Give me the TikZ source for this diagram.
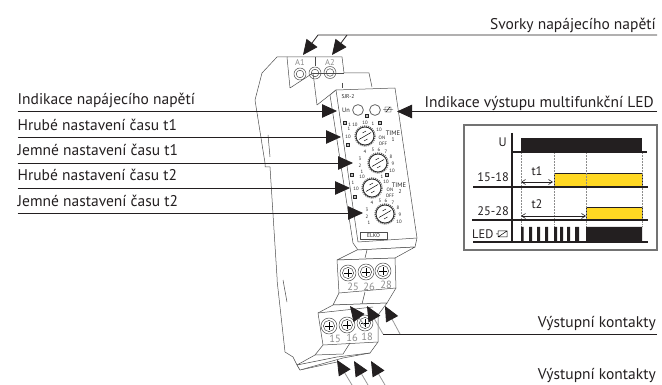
\documentclass[tikz,border=0pt]{standalone}
\usepackage{fontspec}
\setmainfont{PT Sans}
\usetikzlibrary{arrows.meta,calc}
\definecolor{termgray}{gray}{0.55}
\definecolor{sigyellow}{HTML}{FFD823}
\definecolor{sigblack}{HTML}{231F20}
\tikzset{
  label/.style={font=\fontsize{15.5}{17}\selectfont,inner sep=0pt,text=sigblack},
  pointer/.style={line width=0.8pt,draw=sigblack,-{Triangle[length=15pt,width=13.5pt,color=sigblack]}},
  graytail/.style={line width=0.8pt,draw=black!40,-{Triangle[length=15pt,width=13.5pt,color=sigblack]}},
  outline/.style={line width=0.5pt,draw=black!70,line join=round},
  tiny/.style={font=\fontsize{4.8}{5}\selectfont,inner sep=0pt,text=black!85},
  chart/.style={font=\fontsize{12.4}{14}\selectfont,inner sep=0pt,text=sigblack},
  termnum/.style={font=\fontsize{10.5}{11}\selectfont,inner sep=0pt,text=termgray},
  sigline/.style={line width=1.4pt,draw=sigblack},
  dotv/.style={line width=0.5pt,draw=black!45,densely dotted},
  dimarrow/.style={line width=0.6pt,draw=sigblack,{Straight Barb[length=4pt,width=5pt]}-{Straight Barb[length=4pt,width=5pt]}},
  icon/.style={line width=0.7pt,draw=black!85,fill=black!25},
}
\newcommand{\screwmark}[1]{%
  \draw[outline,fill=white] (#1) circle (8);
  \draw[outline] (#1) circle (5.6);
  \draw[line width=0.5pt] ($(#1)+(-4,0)$) -- ($(#1)+(4,0)$) ($(#1)+(0,-4)$) -- ($(#1)+(0,4)$);
}
\newcommand{\dialmark}[1]{%
  \draw[line width=1.4pt,draw=black!60,dash pattern=on 1pt off 1pt] (#1) circle (10);
  \draw[line width=0.8pt,draw=black!85,fill=white] (#1) circle (9);
  \draw[line width=0.5pt] ($(#1)+(-6,3.5)$) -- ($(#1)+(6,-3.5)$);
  \draw[line width=0.4pt] ($(#1)+(-2.5,-3)$) -- ($(#1)+(1,-5)$) ($(#1)+(-1,5)$) -- ($(#1)+(2.5,3)$);
}
\newcommand{\iconmark}[1]{\draw[icon] ($(#1)+(-1.8,-1.6)$) rectangle ($(#1)+(1.8,1.6)$);}
\begin{document}
\begin{tikzpicture}[x=1pt,y=-1pt]
\useasboundingbox (0,0) rectangle (662,385);
% rear body
\draw[outline] (287,57) -- (277,57) -- (262,73) -- (255,100) -- (265,163) -- (265,167) -- (270,167) -- (277,277) -- (277,280) -- (285,352) -- (293,357) -- (297,365) -- (300,370) -- (337,362);
\draw[outline] (268,135) -- (270,157);
\draw[outline] (283,280) -- (287,302);
% top terminal
\draw[outline] (287,57) -- (342,57) -- (344,73) -- (369,73) -- (372,87);
\draw[outline] (287,57) -- (290,88) -- (313,73) -- (317,105) -- (336,90);
\draw[outline] (313,73) -- (344,73);
\draw[outline] (315,57) -- (315,66);
\draw[outline] (342,83) -- (342,88);
\foreach \p in {(300,74),(315,73),(330,72.5)}{\draw[outline] \p circle (6); \draw[outline] \p circle (3.8);}
\node[font=\fontsize{8.5}{9}\selectfont,text=termgray,inner sep=0pt] (ta1) at (300,62) {A1};
\node[font=\fontsize{8.5}{9}\selectfont,text=termgray,inner sep=0pt] (ta2) at (330,62) {A2};
% front panel
\draw[outline,fill=white] (336,90) -- (395,88) -- (417,238) -- (415,247) -- (358,250) -- (353,243) -- (330,95) -- cycle;
\draw[outline] (336,90) -- (358,242) -- (417,238);
% status
\node[tiny,font=\fontsize{5.6}{6}\selectfont] (sjr) at (348,97) {SJR-2};
\node[tiny,font=\fontsize{6.4}{7}\selectfont] (un) at (346,110) {Un};
\draw[outline,line width=0.7pt] (358,110) circle (5.4);
\draw[outline,line width=0.7pt] (375,110) circle (5.4);
\draw[line width=0.4pt] (385,107) rectangle (391,112) (383,109.5) -- (393,109.5) (386,112) -- (390,107);
% dials
\dialmark{365,136}
\dialmark{378,163}
\dialmark{372,188}
\dialmark{385,214}
\iconmark{367,116}
\iconmark{345,123}
\iconmark{380,123}
\iconmark{348,145}
\iconmark{352,175}
\iconmark{387,175}
\iconmark{355,197}
\node[tiny] (d1a) at (353,125) {1 10};
\node[tiny] (d1b) at (365,123) {10};
\node[tiny] (d1f) at (373,124) {1};
\node[tiny] (d1c) at (379,130) {10};
\node[tiny] (d1d) at (349,129) {1};
\node[tiny] (d1e) at (348,137) {10};
\node[tiny] (ton1) at (382,138) {ON};
\node[tiny] (tof1) at (383,144) {OFF};
\node[tiny,font=\fontsize{6.6}{7}\selectfont] (tim1) at (393,133) {TIME};
\node[tiny,font=\fontsize{5.4}{6}\selectfont] (tnu1) at (393,140) {1};
\node[tiny] (d3a) at (362,177) {10};
\node[tiny] (d3b) at (382,177) {1};
\node[tiny] (d3c) at (386,182) {10};
\node[tiny] (d3e) at (353,183) {1};
\node[tiny] (d3d) at (356,189) {10};
\node[tiny] (ton2) at (390,190) {ON};
\node[tiny] (tof2) at (390,196) {OFF};
\node[tiny,font=\fontsize{6.6}{7}\selectfont] (tim2) at (399,185) {TIME};
\node[tiny,font=\fontsize{5.4}{6}\selectfont] (tnu2) at (400,192) {2};
\foreach \dx/\dy/\t in {-16/9/1,-18/3/2,-18/-4/3,-13/-11/4,-5/-13/5,1/-13/6,8/-11/7,13/-6/8,15/1/9,14/8/10}{
  \node[tiny] at ($(378,163)+(\dx,\dy)$) {\t};
  \node[tiny] at ($(385,214)+(\dx,\dy)$) {\t};
}
\draw[outline] (360,232) rectangle (387,239);
\node[tiny,font=\fontsize{5.6}{6}\selectfont] (elko) at (373.5,235.5) {ELKO};
% upper terminal block 25-28
\draw[outline,fill=white] (337,260) -- (357,250) -- (415,247) -- (395,258) -- cycle;
\draw[outline] (365,258) -- (367,250);
\draw[outline,fill=white] (337,260) -- (395,258) -- (396,288) -- (387,303) -- (333,305) -- (339,293) -- cycle;
\draw[outline] (339,293) -- (396,288);
\draw[outline] (365,292) -- (362,304);
\screwmark{348,273}
\screwmark{366,272}
\screwmark{383,271}
\node[termnum] (t25) at (353,287) {25};
\node[termnum] (t26) at (369,287) {26};
\node[termnum] (t28) at (386,285) {28};
% lower terminal block 15-18
\draw[outline,fill=white] (318,313) -- (333,305) -- (387,303) -- (378,315) -- (378,342) -- (370,353) -- (343,358) -- (300,370) -- (297,365) -- (315,355) -- (323,345) -- cycle;
\draw[outline] (323,345) -- (378,342);
\draw[outline] (318,313) -- (373,307);
\draw[outline] (350,343) -- (343,354);
\draw[outline] (297,365) -- (337,357) -- (370,353);
\draw[outline] (315,355) -- (343,354);
\screwmark{329,326}
\screwmark{347,325}
\screwmark{365,323}
\node[termnum] (t15) at (335,339) {15};
\node[termnum] (t16) at (352,338) {16};
\node[termnum] (t18) at (367,337) {18};
% leaders
\node[label,anchor=base west] (l1) at (17.5,105) {Indikace napájecího napětí};
\node[label,anchor=base west] (l2) at (17.5,131) {Hrubé nastavení času t1};
\node[label,anchor=base west] (l3) at (17.5,155.5) {Jemné nastavení času t1};
\node[label,anchor=base west] (l4) at (17.5,181) {Hrubé nastavení času t2};
\node[label,anchor=base west] (l5) at (17.5,207) {Jemné nastavení času t2};
\node[label,anchor=base east] (r1) at (656,30) {Svorky napájecího napětí};
\node[label,anchor=base east] (r2) at (654,107.5) {Indikace výstupu multifunkční LED};
\node[label,anchor=base east] (r3) at (656,327) {Výstupní kontakty};
\node[label,anchor=base east] (r4) at (656,379) {Výstupní kontakty};
\coordinate (sl1) at (17.5,111); \coordinate (tl1) at (337,111);
\coordinate (sl2) at (17.5,137); \coordinate (tl2) at (341,137);
\coordinate (sl3) at (17.5,163); \coordinate (tl3) at (353,163);
\coordinate (sl4) at (17.5,188); \coordinate (tl4) at (350,188);
\coordinate (sl5) at (17.5,213); \coordinate (tl5) at (363,213);
\draw[pointer] (sl1) -- (tl1);
\draw[pointer] (sl2) -- (tl2);
\draw[pointer] (sl3) -- (tl3);
\draw[pointer] (sl4) -- (tl4);
\draw[pointer] (sl5) -- (tl5);
\coordinate (sr2) at (657,111.5); \coordinate (tr2) at (397,111.5);
\draw[pointer] (sr2) -- (tr2);
\coordinate (st) at (657,35); \coordinate (ka) at (318,35); \coordinate (kb) at (347,35);
\coordinate (ta) at (303,55); \coordinate (tb) at (332,55);
\draw[pointer] (st) -- (ka) -- (ta);
\draw[pointer] (kb) -- (tb);
% output arrows upper
\coordinate (u1) at (350,306); \coordinate (u2) at (367,306); \coordinate (u3) at (385,306);
\coordinate (us) at (657,334); \coordinate (uk) at (400,334); \coordinate (ul) at (383,334);
\draw[line width=0.8pt,draw=sigblack] (us) -- (ul);
\draw[graytail] (uk) -- (u3);
\draw[graytail] (ul) -- (u2);
\draw[graytail] (365,326) -- (u1);
\coordinate (b1) at (337,360); \coordinate (b2) at (354,361); \coordinate (b3) at (371,361);
\draw[graytail] (352,385) -- (b1);
\draw[graytail] (368,385) -- (b2);
\draw[graytail] (385,385) -- (b3);
% chart
\draw[line width=1.2pt,draw=black!55] (464,125) rectangle (657,250);
\draw[fill=sigblack,draw=none] (521,138) rectangle (642,152);
\fill[sigyellow,draw=sigblack,line width=0.6pt] (554,173) rectangle (642,187);
\fill[sigyellow,draw=sigblack,line width=0.6pt] (586,207) rectangle (642,220);
\foreach \x in {521,554,586,642}{\draw[dotv] (\x,152) -- (\x,227);}
\fill[sigblack] (521,227) rectangle (523.5,242) (529,227) rectangle (532,242) (537,227) rectangle (540,242) (545,227) rectangle (548,242)
  (554,227) rectangle (557,242) (560,227) rectangle (563,242) (567,227) rectangle (570,242) (575,227) rectangle (579,242) (586,227) rectangle (642,242);
\draw[sigline] (512,133) -- (512,242);
\draw[sigline] (512,152) -- (647,152);
\draw[sigline] (473,187) -- (648,187);
\draw[sigline] (472,220) -- (648,220);
\draw[sigline] (473,242) -- (648,242);
\draw[dimarrow] (521,182) -- (553,182);
\draw[dimarrow] (521,216) -- (586,216);
\node[chart,anchor=base east] (cu) at (507,147) {U};
\node[chart,anchor=base east] (c15) at (509,182) {15-18};
\node[chart,anchor=base east] (c25) at (509,215) {25-28};
\node[chart,anchor=base west] (cled) at (472,239) {LED};
\node[chart,anchor=base] (ct1) at (537,176) {t1};
\node[chart,anchor=base] (ct2) at (537,209) {t2};
\draw[line width=0.5pt] (498,231) rectangle (507,237) (498,237) -- (507,231) (496,234) -- (498,234);
\end{tikzpicture}
\end{document}
